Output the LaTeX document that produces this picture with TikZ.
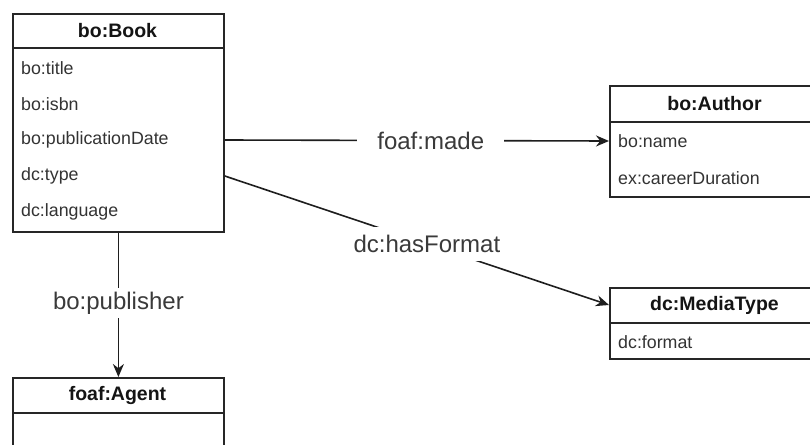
\documentclass[tikz,border=0pt]{standalone}
\usepackage{fontspec}
\setmainfont{Liberation Sans}
\usetikzlibrary{arrows.meta}
\definecolor{boxline}{HTML}{262626}
\definecolor{linec}{HTML}{1E1E1E}
\definecolor{txt}{HTML}{333333}
\definecolor{headtxt}{HTML}{141414}
\definecolor{lbl}{HTML}{3A3A3A}
\begin{document}
\begin{tikzpicture}[x=1pt,y=-1pt,
  classbox/.style={draw=boxline, line width=1.8pt, minimum width=211pt, anchor=north west, inner sep=0pt},
  sepline/.style={draw=boxline, line width=1.8pt},
  head/.style={font=\fontsize{19.5}{22}\selectfont\bfseries, text=headtxt, inner sep=0pt},
  attr/.style={font=\fontsize{17.8}{20}\selectfont, text=txt, anchor=west, inner sep=0pt},
  edgelabel/.style={font=\fontsize{24}{27}\selectfont, text=lbl, fill=white, inner xsep=20pt, inner ysep=6pt},
  link/.style={draw=linec, line width=1.6pt, -{Stealth[length=13pt,width=11pt]}}]
\useasboundingbox (0,0) rectangle (810,444);
\clip (0,0) rectangle (810,444);
\fill[white] (0,0) rectangle (810,444);

% bo:Book
\node[classbox, minimum height=218pt] (book) at (12,13) {};
\draw[sepline] (12,48) -- (223,48);
\node[head] (bookhead) at (117.5,31) {bo:Book};
\node[attr] (booktitle) at (21,68) {bo:title};
\node[attr] (bookisbn) at (21,104) {bo:isbn};
\node[attr] (bookdate) at (21,140) {bo:publicationDate};
\node[attr] (booktype) at (21,176) {dc:type};
\node[attr] (booklang) at (21,212) {dc:language};

% bo:Author
\node[classbox, minimum height=111pt] (author) at (609,85) {};
\draw[sepline] (609,122) -- (820,122);
\node[head] (authorhead) at (714.5,104) {bo:Author};
\node[attr] (authorname) at (618,141) {bo:name};
\node[attr] (authorcareer) at (618,178) {ex:careerDuration};

% dc:MediaType
\node[classbox, minimum height=71pt] (mtype) at (609,287) {};
\draw[sepline] (609,323) -- (820,323);
\node[head] (mtypehead) at (714.5,305) {dc:MediaType};
\node[attr] (mtypeformat) at (618,342) {dc:format};

% foaf:Agent
\node[classbox, minimum height=100pt] (agent) at (12,377) {};
\draw[sepline] (12,413) -- (223,413);
\node[head] (agenthead) at (117.5,395) {foaf:Agent};

% relations
\draw[link] (book.east |- bookdate) -- node[edgelabel, pos=0.536] {foaf:made} (author.west |- authorname);
\draw[link] (book.east |- booktype) -- node[edgelabel, pos=0.526, inner xsep=4pt, inner ysep=8pt] {dc:hasFormat} (mtype.west |- mtypehead);
\draw[link] (book.south) -- node[edgelabel, pos=0.486, inner xsep=4pt, inner ysep=4pt] {bo:publisher} (agent.north);
\end{tikzpicture}
\end{document}
